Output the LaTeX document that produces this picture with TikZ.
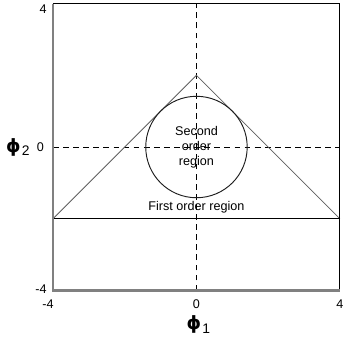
\documentclass[tikz,border=0pt]{standalone}
\usepackage{fontspec}
\setmainfont{Liberation Sans}
\newfontfamily\symfont{DejaVu Sans}
\usetikzlibrary{positioning}
\definecolor{axisgray}{RGB}{128,128,128}
\definecolor{sidegray}{RGB}{95,95,95}
\definecolor{ringgray}{RGB}{30,30,30}
\tikzset{
  frame/.style={black,line width=0.8pt},
  axisline/.style={axisgray,line width=1.6pt},
  guide/.style={black,line width=0.7pt,dash pattern=on 4.6pt off 3.4pt},
  sideline/.style={sidegray,line width=0.6pt},
  baseline/.style={black,line width=0.8pt},
  ring/.style={ringgray,line width=0.75pt},
  ticklab/.style={font=\fontsize{10}{12}\selectfont,inner sep=0pt},
  region/.style={font=\fontsize{10}{11.8}\selectfont,align=center,inner sep=0pt},
  varlab/.style={inner sep=0pt},
}
\newcommand{\philab}[1]{{\symfont\bfseries\fontsize{14.5}{14.5}\selectfont ϕ}\kern1pt\raisebox{-3pt}{\fontsize{11}{11}\selectfont #1}}

\begin{document}
\begin{tikzpicture}
  \useasboundingbox (-5.477,-5.575) rectangle (4.084,4.098);
  % corners of the plot box
  \coordinate (sw) at (-4,-4);
  \coordinate (se) at (4,-4);
  \coordinate (nw) at (-4,4);
  \coordinate (ne) at (4,4);
  % zero lines
  \coordinate (bot) at (0,-4);
  \coordinate (top) at (0,4);
  \coordinate (lft) at (-4,0);
  \coordinate (rgt) at (4,0);
  \draw[guide] (bot) -- (top);
  \draw[guide] (lft) -- (rgt);
  % triangle and circle
  \coordinate (apex) at (0,2);
  \coordinate (bl) at (-4,-2);
  \coordinate (br) at (4,-2);
  \draw[sideline] (bl) -- (apex) -- (br);
  \draw[baseline] (bl) -- (br);
  \node[ring,draw,circle,minimum size=2.828cm,inner sep=0pt] (inner) at (0,0) {};
  \node[region] (second) at (inner.center) {Second\\order\\region};
  \node[region] (first) at (0,-1.69) {First order region};
  % box
  \draw[frame] (nw) -- (ne) -- (se);
  \draw[axisline] (nw) -- (sw) -- (se);
  % tick labels
  \foreach \x/\t in {-4.14/-4,0/0,4/4}
    \node[ticklab] (xt\t) at (\x,-4.37) {\t};
  \foreach \y/\t/\e in {3.85/4/-4.17,0/0/-4.25,-3.96/-4/-4.17}
    \node[ticklab,anchor=east] (yt\t) at (\e,\y) {\t};
  % axis names
  \node[varlab] (phione) at (0.05,-4.95) {\philab{1}};
  \node[varlab] (phitwo) at (-4.98,0) {\philab{2}};
\end{tikzpicture}
\end{document}
